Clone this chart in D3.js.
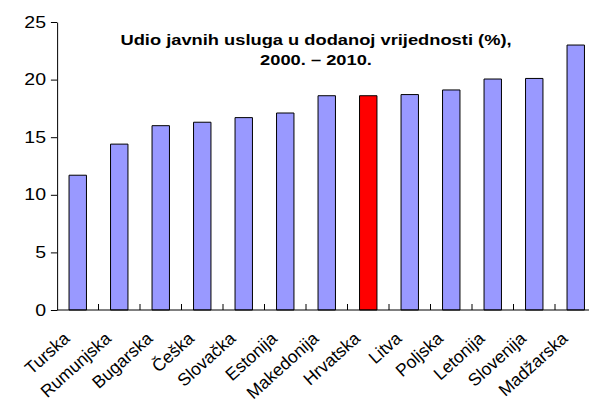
<!DOCTYPE html>
<html lang="hr">
<head>
    <meta charset="UTF-8">
    <title>Udio javnih usluga</title>
    <script src="https://d3js.org/d3.v7.min.js"></script>
    <style>
        body { margin: 0; background: #fff; }
        text { font-family: "Liberation Sans", Arial, sans-serif; }
        line, path, rect { vector-effect: non-scaling-stroke; }
    </style>
</head>
<body>
<script>
    // data
    countries = ["Turska", "Rumunjska", "Bugarska", "Češka", "Slovačka", "Estonija",
        "Makedonija", "Hrvatska", "Litva", "Poljska", "Letonija", "Slovenija", "Madžarska"]
    shares = [11.7, 14.4, 16.0, 16.3, 16.7, 17.1, 18.6, 18.6, 18.7, 19.1, 20.05, 20.1, 23.0]
    yTicks = [0, 5, 10, 15, 20, 25]
    highlight = "Hrvatska"

    // the original chart is stretched sideways, so draw in a squeezed
    // space and stretch it back
    sx = 1.22
    w = 589
    h = 405
    margin = {top: 22, left: 57 / sx}
    plotW = 13 * 41.5 / sx
    plotH = 288

    svg = d3.select("body").append("svg")
        .attr("width", w)
        .attr("height", h)
    root = svg.append("g")
        .attr("transform", "scale(" + sx + ",1)")
    g = root.append("g")
        .attr("transform", "translate(" + margin.left + "," + margin.top + ")")

    x = d3.scaleBand()
        .domain(countries)
        .range([0, plotW])
        .paddingInner(0.58)
        .paddingOuter(0.29)
    xCat = d3.scaleBand().domain(countries).range([0, plotW])

    y = d3.scaleLinear()
        .domain([0, 25])
        .range([plotH, 0])

    // bars
    g.selectAll("rect.bar")
        .data(countries)
        .enter().append("rect")
        .attr("class", "bar")
        .attr("x", (d) => x(d))
        .attr("width", x.bandwidth())
        .attr("y", (d, i) => y(shares[i]))
        .attr("height", (d, i) => plotH - y(shares[i]))
        .attr("fill", (d) => d == highlight ? "#ff0000" : "#9999ff")
        .attr("stroke", "#000")
        .attr("stroke-width", 1)

    // y axis
    yAxis = g.append("g")
        .call(d3.axisLeft(y).tickValues(yTicks).tickSize(5).tickPadding(4).tickSizeOuter(0))
    yAxis.select(".domain").attr("stroke", "#000")
    yAxis.selectAll("text").attr("font-size", 16).attr("fill", "#000")
    yAxis.selectAll("line").attr("stroke", "#000")

    // x axis: line and category separator ticks pointing up
    g.append("line")
        .attr("x1", 0).attr("x2", plotW)
        .attr("y1", plotH).attr("y2", plotH)
        .attr("stroke", "#000")
    g.selectAll("line.sep")
        .data(countries.slice(1))
        .enter().append("line")
        .attr("class", "sep")
        .attr("x1", (d) => xCat(d)).attr("x2", (d) => xCat(d))
        .attr("y1", plotH).attr("y2", plotH - 6)
        .attr("stroke", "#000")

    // category labels are not stretched, so place them in screen space
    svg.selectAll("text.cat")
        .data(countries)
        .enter().append("text")
        .attr("class", "cat")
        .attr("transform", (d) => "translate(" + ((margin.left + xCat(d) + xCat.bandwidth() / 2) * sx - 7) + "," + (margin.top + plotH + 30) + ") rotate(-42)")
        .attr("text-anchor", "end")
        .attr("font-size", 17.5)
        .text((d) => d)

    // title
    title = root.append("text")
        .attr("text-anchor", "middle")
        .attr("font-size", 15)
        .attr("font-weight", "bold")
    title.append("tspan").attr("x", 316 / sx).attr("y", 45).text("Udio javnih usluga u dodanoj vrijednosti (%),")
    title.append("tspan").attr("x", 316 / sx).attr("y", 65).text("2000. – 2010.")
</script>
</body>
</html>
